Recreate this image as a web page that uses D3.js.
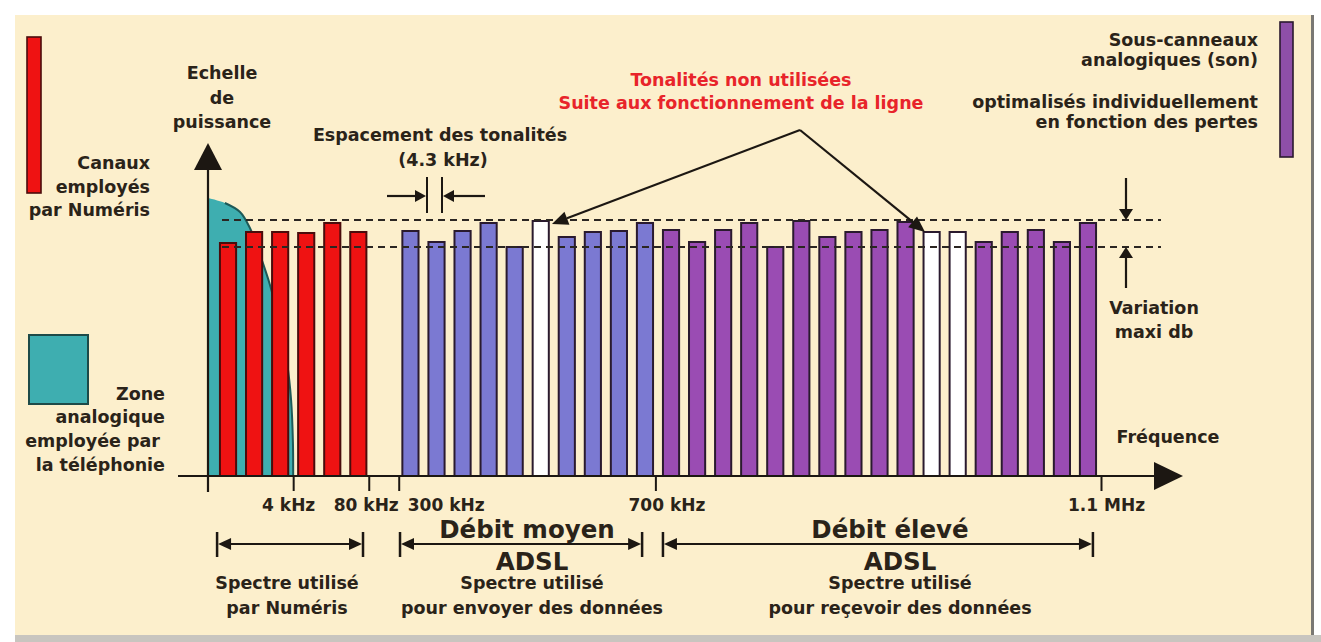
<!DOCTYPE html>
<html lang="fr">
<head>
<meta charset="utf-8">
<script src="https://cdn.jsdelivr.net/npm/d3@7"></script>
<style>
    html, body { margin: 0; padding: 0; background: #fff; }
    svg { display: block; font-family: "DejaVu Sans", Verdana, sans-serif; font-weight: bold; }
</style>
</head>
<body>
<script>
"use strict";

// tonalites, une par case de 4.3 kHz (la case 6 n'est pas employee)
const channelType = [
    "numeris", "numeris", "numeris", "numeris", "numeris", "numeris",
    null,
    "montant", "montant", "montant", "montant", "montant", "libre",
    "montant", "montant", "montant", "montant",
    "descendant", "descendant", "descendant", "descendant", "descendant",
    "descendant", "descendant", "descendant", "descendant", "descendant",
    "libre", "libre",
    "descendant", "descendant", "descendant", "descendant", "descendant"
];
const channelPower = [
    233, 244, 244, 243, 253, 244,
    0,
    245, 234, 245, 253, 229, 255, 239, 244, 245, 253,
    246, 234, 246, 253, 229, 255, 239, 244, 246, 254, 244, 244, 234, 244, 246, 234, 253
];

// zone analogique (telephonie)
const analogSlot = [-0.27, 0.38, 0.96, 1.34, 1.73, 2.11, 2.49, 2.76, 2.92, 2.99, 3.0];
const analogPower = [278, 273, 264, 248, 221, 191, 151, 114, 76, 34, 0];

// niveaux de variation maxi
const levels = [256, 229];

// graduations de frequence
const tickPos = [3, 5.9, 7.05, 16.9, 34];
const tickLabels = ["4 kHz", "80 kHz", "300 kHz", "700 kHz", "1.1 MHz"];

// bandes de spectre
const bandFrom = [0.08, 7.1, 17.19];
const bandTo = [5.68, 16.39, 33.69];
const bandTitle = [null, ["Débit moyen", "ADSL"], ["Débit élevé", "ADSL"]];
const bandText = [
    ["Spectre utilisé", "par Numéris"],
    ["Spectre utilisé", "pour envoyer des données"],
    ["Spectre utilisé", "pour reçevoir des données"]
];

const W = 1321, H = 642;
const ink = "#1c1712";
const textInk = "#2a2319";
const colors = {
    numeris: "#ef1212",
    montant: "#7b79d2",
    descendant: "#9a4cb3",
    libre: "#ffffff"
};

const svg = d3.select("body").append("svg")
    .attr("width", W).attr("height", H);

// fond
svg.append("rect").attr("x", 15).attr("y", 15).attr("width", 1296).attr("height", 620).attr("fill", "#fcefcc");
svg.append("rect").attr("x", 15).attr("y", 635).attr("width", W - 15).attr("height", 7).attr("fill", "#c8c5bf");
svg.append("rect").attr("x", 1311).attr("y", 15).attr("width", 3).attr("height", 620).attr("fill", "#7a7874");

// echelles
const xPos = d3.scaleLinear().domain([0, 34]).range([215, 1101]);
const xBand = d3.scaleBand().domain(d3.range(channelType.length)).range([215, 1101])
    .paddingInner(0.38).paddingOuter(0.19);
const yScale = d3.scaleLinear().domain([0, 300]).range([476, 176]);

function tri(g, pts, color) {
    g.append("path").attr("d", "M" + pts.map(p => p.join(",")).join("L") + "Z")
        .attr("fill", color || ink);
}

function arrow(g, x1, y1, x2, y2, len, half) {
    const a = Math.atan2(y2 - y1, x2 - x1);
    const bx = x2 - len * Math.cos(a), by = y2 - len * Math.sin(a);
    g.append("line").attr("x1", x1).attr("y1", y1).attr("x2", bx).attr("y2", by)
        .attr("stroke", ink).attr("stroke-width", 2.2);
    tri(g, [[x2, y2],
        [bx + half * Math.sin(a), by - half * Math.cos(a)],
        [bx - half * Math.sin(a), by + half * Math.cos(a)]]);
}

// zone analogique
const analogData = analogSlot.map((s, i) => ({ s: s, p: analogPower[i] }));
svg.append("path").datum(analogData)
    .attr("d", d3.area().x(d => xPos(d.s)).y0(yScale(0)).y1(d => yScale(d.p)).curve(d3.curveCatmullRom))
    .attr("fill", "#3eaeb0");
svg.append("path").datum(analogData.slice(1))
    .attr("d", d3.line().x(d => xPos(d.s)).y(d => yScale(d.p)).curve(d3.curveCatmullRom))
    .attr("fill", "none").attr("stroke", "#1d5a58").attr("stroke-width", 2);

// tonalites
const channels = channelType.map((t, i) => ({ i: i, type: t, p: channelPower[i] }))
    .filter(d => d.type !== null);
svg.append("g").selectAll("rect").data(channels).enter().append("rect")
    .attr("x", d => xBand(d.i))
    .attr("y", d => yScale(d.p))
    .attr("width", xBand.bandwidth())
    .attr("height", d => yScale(0) - yScale(d.p))
    .attr("fill", d => colors[d.type])
    .attr("stroke", d => d.type === "numeris" ? "#4a0c0c" : "#2a1a2e")
    .attr("stroke-width", 2);

// niveaux (pointilles)
svg.append("g").selectAll("line").data(levels).enter().append("line")
    .attr("x1", 222).attr("x2", 1161)
    .attr("y1", d => yScale(d)).attr("y2", d => yScale(d))
    .attr("stroke", "#2b2622").attr("stroke-width", 2)
    .attr("stroke-dasharray", "7,5");

// axe des frequences
const xAxis = d3.axisBottom(xPos).tickValues(tickPos)
    .tickFormat((d, i) => tickLabels[i]).tickSize(15).tickSizeOuter(0);
const gx = svg.append("g").attr("transform", "translate(0," + yScale(0) + ")").call(xAxis);
gx.select(".domain").remove();
gx.selectAll(".tick line").attr("stroke", ink).attr("stroke-width", 2);
const tickDx = [-5, -3, 47, 11, 5];
gx.selectAll(".tick text")
    .attr("y", 29).attr("dy", "0.35em")
    .attr("dx", (d, i) => tickDx[i])
    .attr("fill", textInk)
    .style("font-family", "'DejaVu Sans', Verdana, sans-serif")
    .style("font-weight", "bold")
    .style("font-size", "17px");

const ann = svg.append("g");
// axes avec fleches
arrow(ann, 178, yScale(0), 1183, yScale(0), 29, 14);
arrow(ann, 208, 492, 208, 143, 27, 14);

// espacement des tonalites
ann.append("line").attr("x1", 427).attr("x2", 427).attr("y1", 177).attr("y2", 213).attr("stroke", ink).attr("stroke-width", 2);
ann.append("line").attr("x1", 442).attr("x2", 442).attr("y1", 177).attr("y2", 213).attr("stroke", ink).attr("stroke-width", 2);
arrow(ann, 387, 196, 426, 196, 11, 6);
arrow(ann, 485, 196, 443, 196, 11, 6);

// tonalites non utilisees
arrow(ann, 800, 130, 552, 224, 16, 7);
arrow(ann, 800, 130, 925, 232, 16, 7);

// variation maxi
arrow(ann, 1126, 178, 1126, yScale(levels[0]), 11, 7);
arrow(ann, 1126, 288, 1126, yScale(levels[1]), 11, 7);

// bandes de spectre
bandFrom.forEach((f, i) => {
    const x1 = xPos(f), x2 = xPos(bandTo[i]), y = 544;
    ann.append("line").attr("x1", x1 + 8).attr("x2", x2 - 8).attr("y1", y).attr("y2", y)
        .attr("stroke", ink).attr("stroke-width", 2.2);
    tri(ann, [[x1 + 1, y], [x1 + 14, y - 6], [x1 + 14, y + 6]]);
    tri(ann, [[x2 - 1, y], [x2 - 14, y - 6], [x2 - 14, y + 6]]);
    [x1, x2].forEach(x => ann.append("line").attr("x1", x).attr("x2", x)
        .attr("y1", 532).attr("y2", 557).attr("stroke", ink).attr("stroke-width", 2.5));
});

// legendes
svg.append("rect").attr("x", 27).attr("y", 37).attr("width", 14).attr("height", 156)
    .attr("fill", colors.numeris).attr("stroke", "#4a0c0c").attr("stroke-width", 1.6);
svg.append("rect").attr("x", 29).attr("y", 335).attr("width", 59).attr("height", 69)
    .attr("fill", "#3eaeb0").attr("stroke", "#1d4a48").attr("stroke-width", 2);
svg.append("rect").attr("x", 1280).attr("y", 22).attr("width", 13).attr("height", 135)
    .attr("fill", "#8e4fa8").attr("stroke", "#2a1a2e").attr("stroke-width", 1.6);

// textes
const texts = [
    ["Canaux", 150, 163, "end"], ["employés", 150, 187, "end"], ["par Numéris", 150, 210, "end"],
    ["Echelle", 222, 73, "middle"], ["de", 222, 98, "middle"], ["puissance", 222, 122, "middle"],
    ["Espacement des tonalités", 440, 135, "middle"], ["(4.3 kHz)", 443, 160, "middle"],
    ["Sous-canneaux", 1258, 40, "end"], ["analogiques (son)", 1258, 60, "end"],
    ["optimalisés individuellement", 1258, 102, "end"], ["en fonction des pertes", 1258, 122, "end"],
    ["Variation", 1154, 308, "middle"], ["maxi db", 1154, 332, "middle"],
    ["Fréquence", 1168, 437, "middle"],
    ["Zone", 165, 394, "end"], ["analogique", 165, 417, "end"],
    ["employée par", 160, 441, "end"], ["la téléphonie", 165, 465, "end"]
];
svg.append("g").selectAll("text").data(texts).enter().append("text")
    .attr("x", d => d[1]).attr("y", d => d[2]).attr("text-anchor", d => d[3])
    .attr("dominant-baseline", "central")
    .attr("font-size", 17.5).attr("fill", textInk)
    .text(d => d[0]);

svg.append("g").selectAll("text")
    .data(["Tonalités non utilisées", "Suite aux fonctionnement de la ligne"]).enter().append("text")
    .attr("x", 741).attr("y", (d, i) => 80 + i * 23)
    .attr("text-anchor", "middle").attr("dominant-baseline", "central")
    .attr("font-size", 17.5).attr("fill", "#e8242a")
    .text(d => d);

// textes des bandes
const bandMid = [287, 532, 900];
const titleMid = [287, 527, 890];
bandText.forEach((lines, i) => {
    lines.forEach((t, k) => {
        svg.append("text").attr("x", bandMid[i]).attr("y", 583 + k * 25)
            .attr("text-anchor", "middle").attr("dominant-baseline", "central")
            .attr("font-size", 17.5).attr("fill", textInk).text(t);
    });
    if (bandTitle[i]) {
        bandTitle[i].forEach((t, k) => {
            svg.append("text").attr("x", k === 0 ? titleMid[i] : bandMid[i])
                .attr("y", 529 + k * 32)
                .attr("text-anchor", "middle").attr("dominant-baseline", "central")
                .attr("font-size", 24.5).attr("fill", textInk).text(t);
        });
    }
});
</script>
</body>
</html>
